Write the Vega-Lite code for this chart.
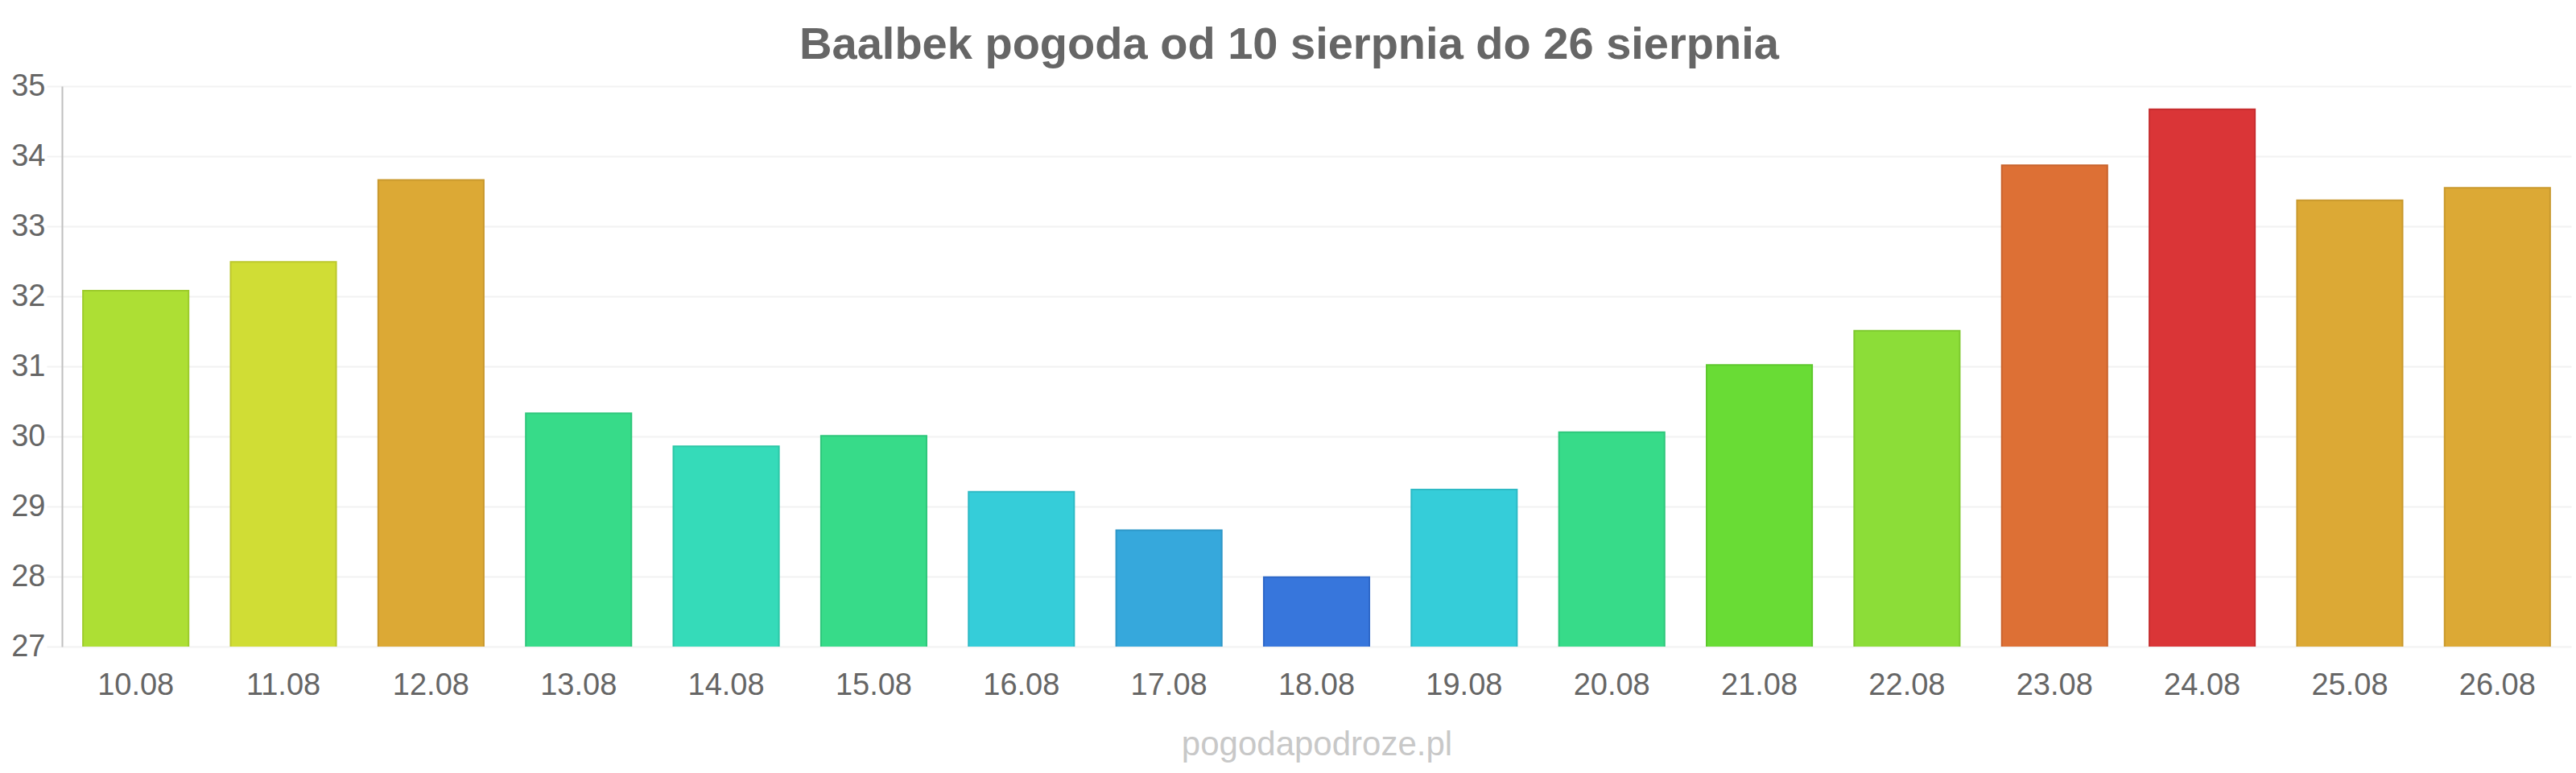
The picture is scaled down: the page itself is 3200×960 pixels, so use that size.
{
  "$schema": "https://vega.github.io/schema/vega-lite/v6.json",
  "width": 3117,
  "height": 696,
  "autosize": {"type": "none"},
  "padding": {"left": 77, "top": 107, "right": 6, "bottom": 157},
  "background": "#ffffff",
  "title": {
    "text": "Baalbek pogoda od 10 sierpnia do 26 sierpnia",
    "font": "Liberation Sans",
    "fontSize": 56,
    "fontWeight": "bold",
    "color": "#666666",
    "anchor": "middle",
    "baseline": "alphabetic",
    "offset": 34,
    "dx": -34,
    "dy": 75
  },
  "data": {
    "values": [
      {"date": "10.08", "temp": 32.08},
      {"date": "11.08", "temp": 32.49},
      {"date": "12.08", "temp": 33.66},
      {"date": "13.08", "temp": 30.33},
      {"date": "14.08", "temp": 29.86},
      {"date": "15.08", "temp": 30.01},
      {"date": "16.08", "temp": 29.21},
      {"date": "17.08", "temp": 28.66},
      {"date": "18.08", "temp": 27.99},
      {"date": "19.08", "temp": 29.24},
      {"date": "20.08", "temp": 30.06},
      {"date": "21.08", "temp": 31.02},
      {"date": "22.08", "temp": 31.51},
      {"date": "23.08", "temp": 33.87},
      {"date": "24.08", "temp": 34.67},
      {"date": "25.08", "temp": 33.37},
      {"date": "26.08", "temp": 33.55}
    ]
  },
  "mark": {"type": "bar", "strokeWidth": 2, "clip": true},
  "encoding": {
    "x": {
      "field": "date",
      "type": "ordinal",
      "sort": null,
      "scale": {"paddingInner": 0.285, "paddingOuter": 0.1425},
      "axis": {
        "title": "pogodapodroze.pl",
        "titleFont": "Liberation Sans",
        "titleFontSize": 42,
        "titleFontWeight": "normal",
        "titleColor": "#c8c8c8",
        "titleBaseline": "alphabetic",
        "titleY": 134,
        "labelAngle": 0,
        "labelFont": "Liberation Sans",
        "labelFontSize": 38,
        "labelColor": "#666666",
        "labelPadding": 29,
        "labelBaseline": "top",
        "ticks": false,
        "domain": false,
        "grid": false
      }
    },
    "y": {
      "field": "temp",
      "type": "quantitative",
      "scale": {"domain": [27, 35], "nice": false, "zero": false},
      "axis": {
        "title": null,
        "values": [27, 28, 29, 30, 31, 32, 33, 34, 35],
        "labelFont": "Liberation Sans",
        "labelFontSize": 38,
        "labelColor": "#666666",
        "labelPadding": 2,
        "tickSize": 19,
        "tickColor": "#f2f2f2",
        "tickWidth": 2,
        "grid": true,
        "gridColor": "#f2f2f2",
        "gridWidth": 2,
        "domain": true,
        "domainColor": "#c0c0c0",
        "domainWidth": 2
      }
    },
    "color": {
      "field": "date",
      "type": "nominal",
      "legend": null,
      "scale": {
        "domain": ["10.08","11.08","12.08","13.08","14.08","15.08","16.08","17.08","18.08","19.08","20.08","21.08","22.08","23.08","24.08","25.08","26.08"],
        "range": ["#addf34","#d0dd35","#dca935","#37db89","#35dbb9","#37db89","#35cdd9","#36a8dc","#3776dc","#35cdd9","#37db89","#69dc35","#8cdd38","#dd7035","#da3537","#dca935","#dca935"]
      }
    },
    "stroke": {
      "field": "date",
      "type": "nominal",
      "legend": null,
      "scale": {
        "domain": ["10.08","11.08","12.08","13.08","14.08","15.08","16.08","17.08","18.08","19.08","20.08","21.08","22.08","23.08","24.08","25.08","26.08"],
        "range": ["#9ccb2c","#bcc82e","#c9992d","#2ec77b","#2dc7a7","#2ec77b","#2dbac5","#2e97c8","#2e68c8","#2dbac5","#2ec77b","#5dc82d","#7ec92f","#c9632d","#c62d2f","#c9992d","#c9992d"]
      }
    }
  },
  "config": {
    "view": {"stroke": null},
    "font": "Liberation Sans"
  }
}
